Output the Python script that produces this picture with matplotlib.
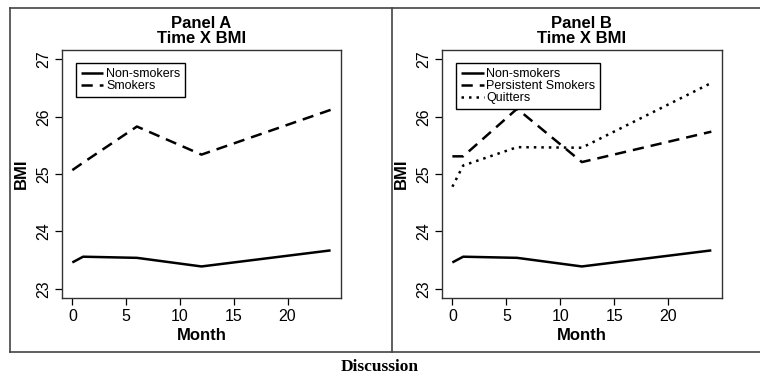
import numpy as np
import matplotlib
matplotlib.use('Agg')
from matplotlib import pyplot as plt
from matplotlib.lines import Line2D

plt.rcParams['font.family'] = ['Liberation Sans', 'DejaVu Sans']

# data
months = [0, 1, 6, 12, 24]
non_smokers = [23.46, 23.56, 23.54, 23.39, 23.67]
smokers = [25.07, 25.2, 25.83, 25.34, 26.12]
persistent = [25.31, 25.31, 26.14, 25.21, 25.74]
quitters = [24.78, 25.15, 25.47, 25.46, 26.59]

xticks = [0, 5, 10, 15, 20]
yticks = [23, 24, 25, 26, 27]

LW = 1.8
DASH = (0, (4.5, 2.8))
DOT = (0, (1.0, 2.0))

fig = plt.figure(figsize=(7.6, 3.8), dpi=100)

def panel(rect, title, series):
    ax = fig.add_axes(rect)
    for vals, ls, lab in series:
        ax.plot(months, vals, color='black', lw=LW, linestyle=ls, label=lab,
                solid_capstyle='butt', dash_capstyle='butt')
    ax.set_xlim(-0.96, 24.96)
    ax.set_ylim(22.84, 27.16)
    ax.set_xticks(xticks)
    ax.set_yticks(yticks)
    ax.tick_params(direction='out', length=5, width=0.9, labelsize=11.5, pad=3)
    for lbl in ax.get_yticklabels():
        lbl.set_rotation(90)
        lbl.set_va('center')
    for s in ax.spines.values():
        s.set_linewidth(1.0)
        s.set_color('#333333')
    ax.set_xlabel('Month', fontsize=12, fontweight='bold', labelpad=3)
    ax.set_ylabel('BMI', fontsize=12, fontweight='bold', labelpad=5)
    ax.set_title(title, fontsize=12, fontweight='bold', linespacing=1.0, pad=5)
    leg = ax.legend(loc='upper left', bbox_to_anchor=(0.05, 0.948), fontsize=9,
                    handlelength=1.8, handletextpad=0.2, borderpad=0.4,
                    labelspacing=0.0, fancybox=False, framealpha=1,
                    edgecolor='black', borderaxespad=0)
    leg.get_frame().set_linewidth(1.0)
    return ax

panel([0.0816, 0.2158, 0.367, 0.652], 'Panel A\nTime X BMI',
      [(non_smokers, '-', 'Non-smokers'),
       (smokers, DASH, 'Smokers')])
panel([0.5816, 0.2158, 0.368, 0.652], 'Panel B\nTime X BMI',
      [(non_smokers, '-', 'Non-smokers'),
       (persistent, DASH, 'Persistent Smokers'),
       (quitters, DOT, 'Quitters')])

# outer frame
fc = '#444444'
fig.add_artist(Line2D([0.013, 1.0], [0.979, 0.979], color=fc, lw=1.2))
fig.add_artist(Line2D([0.013, 1.0], [0.074, 0.074], color=fc, lw=1.2))
fig.add_artist(Line2D([0.013, 0.013], [0.074, 0.979], color=fc, lw=1.2))
fig.add_artist(Line2D([0.516, 0.516], [0.074, 0.979], color=fc, lw=1.2))

fig.text(0.5, 0.033, 'Discussion', ha='center', va='center', fontsize=12.5,
         fontweight='bold', family=['Liberation Serif', 'DejaVu Serif'])

fig.savefig('out.png', dpi=100)
